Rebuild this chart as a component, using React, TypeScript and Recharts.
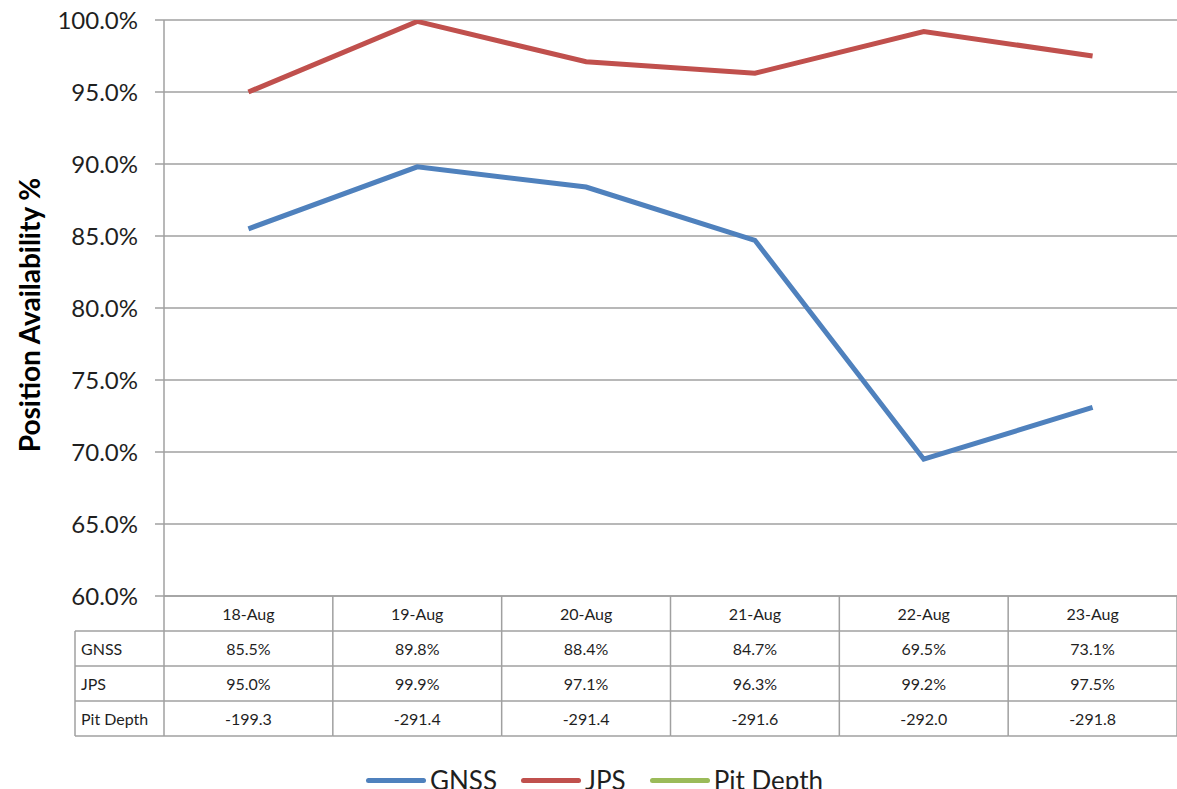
import { LineChart, Line, XAxis, YAxis, CartesianGrid, Legend } from "recharts";

const days = ["18-Aug", "19-Aug", "20-Aug", "21-Aug", "22-Aug", "23-Aug"];
const gnss = [85.5, 89.8, 88.4, 84.7, 69.5, 73.1];
const jps = [95.0, 99.9, 97.1, 96.3, 99.2, 97.5];
const pitDepth = [-199.3, -291.4, -291.4, -291.6, -292.0, -291.8];
const yTicks = [60, 65, 70, 75, 80, 85, 90, 95, 100];

const series = [
  { key: "gnss", name: "GNSS", color: "#4f81bd", values: gnss, fmt: (v: number) => v.toFixed(1) + "%" },
  { key: "jps", name: "JPS", color: "#c0504d", values: jps, fmt: (v: number) => v.toFixed(1) + "%" },
  { key: "pitDepth", name: "Pit Depth", color: "#9bbb59", values: pitDepth, fmt: (v: number) => v.toFixed(1) },
];

const data = days.map((day, i) => ({ day, gnss: gnss[i], jps: jps[i], pitDepth: pitDepth[i] }));

const W = 1177;
const H = 789;
const Y_AXIS_W = 164;
const PLOT_W = W - Y_AXIS_W;
const BAND = PLOT_W / days.length;
const ROW = 35;
const LABEL_LEFT = 75;
const GRID = "#a0a0a0";
const INK = "#1f1f1f";
const FONT = "Lato, 'Open Sans', sans-serif";

// data table drawn under the x axis, one column per category
function TableTick(props: any) {
  const { x, y, payload, index } = props;
  const left = x - BAND / 2;
  const right = x + BAND / 2;
  const bottom = y + ROW * (series.length + 1);
  return (
    <g>
      {index === 0 && (
        <g>
          <line x1={left} y1={y} x2={left} y2={bottom} stroke={GRID} strokeWidth={1.5} />
          <line x1={LABEL_LEFT} y1={y + ROW} x2={LABEL_LEFT} y2={bottom} stroke={GRID} strokeWidth={1.5} />
          {series.map((s, r) => (
            <g key={s.key}>
              <line x1={LABEL_LEFT} y1={y + ROW * (r + 1)} x2={left} y2={y + ROW * (r + 1)} stroke={GRID} strokeWidth={1.5} />
              <text x={LABEL_LEFT + 6} y={y + ROW * (r + 1.5)} dominantBaseline="central" fontSize={16} fill={INK} fontFamily={FONT}>
                {s.name}
              </text>
            </g>
          ))}
          <line x1={LABEL_LEFT} y1={bottom} x2={left} y2={bottom} stroke={GRID} strokeWidth={1.5} />
        </g>
      )}
      <line x1={right} y1={y} x2={right} y2={bottom} stroke={GRID} strokeWidth={1.5} />
      {[1, 2, 3, 4].map((r) => (
        <line key={r} x1={left} y1={y + ROW * r} x2={right} y2={y + ROW * r} stroke={GRID} strokeWidth={1.5} />
      ))}
      <text x={x} y={y + ROW * 0.5} textAnchor="middle" dominantBaseline="central" fontSize={16} fill={INK} fontFamily={FONT}>
        {payload.value}
      </text>
      {series.map((s, r) => (
        <text key={s.key} x={x} y={y + ROW * (r + 1.5)} textAnchor="middle" dominantBaseline="central" fontSize={16} fill={INK} fontFamily={FONT}>
          {s.fmt(s.values[index])}
        </text>
      ))}
    </g>
  );
}

function LegendRow() {
  return (
    <div style={{ height: 51, overflow: "hidden", display: "flex", justifyContent: "center", fontFamily: FONT }}>
      <div style={{ display: "flex", alignItems: "center", marginTop: 27, height: 30, gap: 24, marginLeft: 12 }}>
        {series.map((s) => (
          <div key={s.key} style={{ display: "flex", alignItems: "center" }}>
            <div style={{ width: 60, height: 5, borderRadius: 2.5, background: s.color, marginRight: 4 }} />
            <span style={{ fontSize: 26, color: INK, lineHeight: "30px" }}>{s.name}</span>
          </div>
        ))}
      </div>
    </div>
  );
}

function AxisTitle(props: any) {
  const vb = props.viewBox || {};
  const cy = (vb.y ?? 20) + (vb.height ?? 578) / 2 + 7;
  return (
    <text x={29} y={cy} transform={`rotate(-90 29 ${cy})`} textAnchor="middle" dominantBaseline="central"
      fontSize={28} fontWeight={700} fill="#000" fontFamily={FONT}>
      Position Availability %
    </text>
  );
}

export default function App() {
  return (
    <div style={{ position: "absolute", left: 0, top: 0, width: W, height: H, background: "#fff", overflow: "hidden" }}>
      <style>{`body{margin:0;overflow:hidden;}`}</style>
      <LineChart width={W} height={H} data={data} margin={{ top: 20, right: 0, bottom: 0, left: 0 }}>
        <CartesianGrid vertical={false} stroke={GRID} strokeWidth={1.5} />
        <XAxis dataKey="day" height={ROW * 4 + 2} tickLine={false} tickSize={0} tickMargin={0}
          padding={{ left: BAND / 2, right: BAND / 2 }}
          axisLine={{ stroke: GRID, strokeWidth: 1.5 }} tick={<TableTick />} interval={0} />
        <YAxis width={Y_AXIS_W} domain={[60, 100]} ticks={yTicks} allowDataOverflow
          tickFormatter={(v: number) => v.toFixed(1) + "%"} tickSize={9} tickMargin={17}
          tickLine={{ stroke: GRID, strokeWidth: 1.5 }} axisLine={{ stroke: GRID, strokeWidth: 1.5 }}
          tick={{ fontSize: 24, fill: INK, fontFamily: FONT }} label={<AxisTitle />} />
        <Legend verticalAlign="bottom" content={<LegendRow />} />
        {series.map((s) => (
          <Line key={s.key} dataKey={s.key} name={s.name} stroke={s.color} strokeWidth={5} dot={false}
            activeDot={false} isAnimationActive={false} />
        ))}
      </LineChart>
    </div>
  );
}
